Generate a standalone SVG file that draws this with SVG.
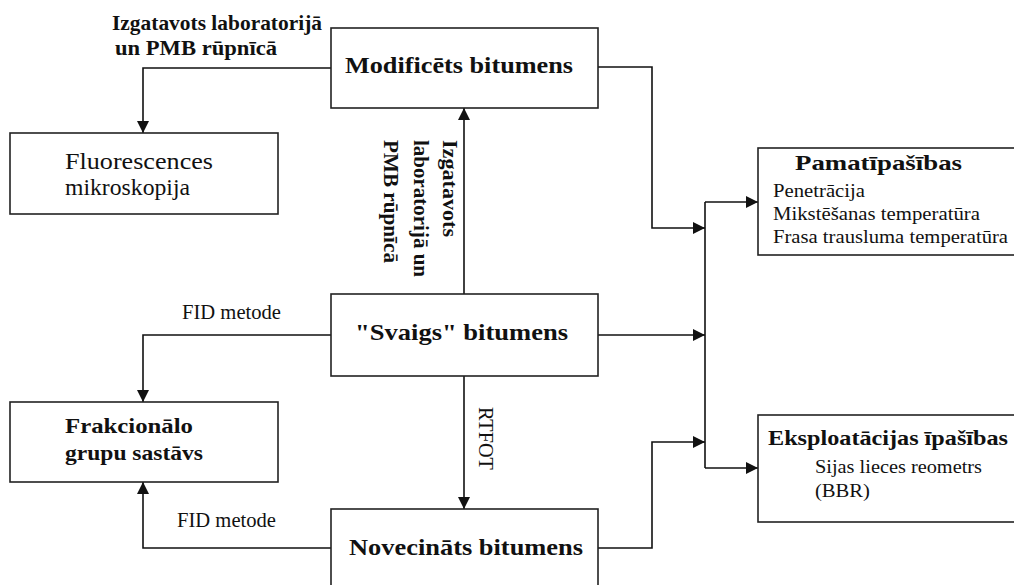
<svg xmlns="http://www.w3.org/2000/svg" width="1014" height="585" viewBox="0 0 1014 585">
<defs>
<marker id="arr" viewBox="0 0 12 12" refX="12" refY="6" markerWidth="12" markerHeight="12" markerUnits="userSpaceOnUse" orient="auto">
<path d="M0,0 L12,6 L0,12 z" fill="#111"/>
</marker>
<style>
.box{fill:#fff;stroke:#222;stroke-width:1.6}
.c{fill:none;stroke:#111;stroke-width:1.6}
.a{marker-end:url(#arr)}
text{font-family:"Liberation Serif","Times New Roman",serif;fill:#111}
.b{font-weight:bold}
</style>
</defs>
<rect width="1014" height="585" fill="#fff"/>
<g id="connectors">
<path class="c a" d="M331,68 H143 V133"/>
<path class="c a" d="M598,67 H652 V228 H705"/>
<path class="c a" d="M464,294 V108"/>
<path class="c a" d="M331,335 H143 V402"/>
<path class="c a" d="M598,335 H705"/>
<path class="c a" d="M464,376 V509"/>
<path class="c a" d="M331,548 H143 V482"/>
<path class="c a" d="M598,548 H652 V442 H705"/>
<path class="c" d="M705,202 V468"/>
<path class="c a" d="M705,202 H758"/>
<path class="c a" d="M705,468 H758"/>
</g>
<g id="labels">
<text class="b" x="112" y="30" font-size="21" textLength="210" lengthAdjust="spacingAndGlyphs">Izgatavots laboratorijā</text>
<text class="b" x="115" y="55" font-size="21" textLength="162" lengthAdjust="spacingAndGlyphs">un PMB rūpnīcā</text>
<text class="b" transform="translate(443,140) rotate(90)" font-size="21" textLength="97" lengthAdjust="spacingAndGlyphs">Izgatavots</text>
<text class="b" transform="translate(414,140) rotate(90)" font-size="21" textLength="137" lengthAdjust="spacingAndGlyphs">laboratorijā un</text>
<text class="b" transform="translate(384,140) rotate(90)" font-size="21" textLength="123" lengthAdjust="spacingAndGlyphs">PMB rūpnīcā</text>
<text x="182" y="319" font-size="20" textLength="99" lengthAdjust="spacingAndGlyphs">FID metode</text>
<text x="177" y="527" font-size="20" textLength="99" lengthAdjust="spacingAndGlyphs">FID metode</text>
<text transform="translate(479,407) rotate(90)" font-size="20" textLength="63" lengthAdjust="spacingAndGlyphs">RTFOT</text>
</g>
<g id="modificets">
<rect class="box" x="331" y="28" width="267" height="80"/>
<text class="b" x="345" y="73" font-size="24" textLength="228" lengthAdjust="spacingAndGlyphs">Modificēts bitumens</text>
</g>
<g id="fluorescences">
<rect class="box" x="10" y="133" width="268" height="81"/>
<text x="65" y="169" font-size="23" textLength="148" lengthAdjust="spacingAndGlyphs">Fluorescences</text>
<text x="65" y="195" font-size="23" textLength="125" lengthAdjust="spacingAndGlyphs">mikroskopija</text>
</g>
<g id="svaigs">
<rect class="box" x="331" y="294" width="267" height="82"/>
<text class="b" x="355" y="340" font-size="24" textLength="213" lengthAdjust="spacingAndGlyphs">"Svaigs" bitumens</text>
</g>
<g id="frakcionalo">
<rect class="box" x="10" y="402" width="268" height="80"/>
<text class="b" x="65" y="433" font-size="22" textLength="128" lengthAdjust="spacingAndGlyphs">Frakcionālo</text>
<text class="b" x="65" y="460" font-size="22" textLength="138" lengthAdjust="spacingAndGlyphs">grupu sastāvs</text>
</g>
<g id="novecinats">
<rect class="box" x="331" y="509" width="267" height="90"/>
<text class="b" x="349" y="555" font-size="24" textLength="234" lengthAdjust="spacingAndGlyphs">Novecināts bitumens</text>
</g>
<g id="pamatipasibas">
<rect class="box" x="758" y="148" width="270" height="107"/>
<text class="b" x="795" y="170" font-size="22" textLength="167" lengthAdjust="spacingAndGlyphs">Pamatīpašības</text>
<text x="773" y="197" font-size="18" textLength="92" lengthAdjust="spacingAndGlyphs">Penetrācija</text>
<text x="773" y="220" font-size="18" textLength="207" lengthAdjust="spacingAndGlyphs">Mikstēšanas temperatūra</text>
<text x="773" y="243" font-size="18" textLength="235" lengthAdjust="spacingAndGlyphs">Frasa trausluma temperatūra</text>
</g>
<g id="ekspluatacijas">
<rect class="box" x="758" y="415" width="270" height="107"/>
<text class="b" x="768" y="445" font-size="22" textLength="240" lengthAdjust="spacingAndGlyphs">Eksploatācijas īpašības</text>
<text x="815" y="473" font-size="19" textLength="167" lengthAdjust="spacingAndGlyphs">Sijas lieces reometrs</text>
<text x="815" y="497" font-size="19" textLength="55" lengthAdjust="spacingAndGlyphs">(BBR)</text>
</g>
</svg>
